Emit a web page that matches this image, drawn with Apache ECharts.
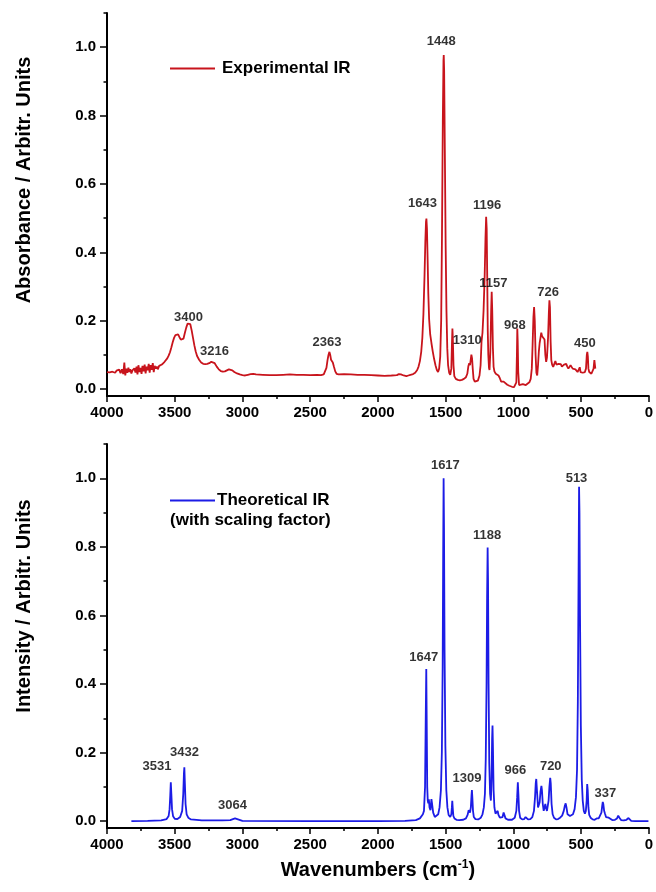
<!DOCTYPE html>
<html>
<head>
<meta charset="utf-8">
<script src="https://cdn.jsdelivr.net/npm/echarts@6/dist/echarts.min.js"></script>
<style>
  html, body { margin: 0; padding: 0; background: #fff; }
  #main { width: 656px; height: 892px; }
</style>
</head>
<body>
<div id="main"></div>
<script>
// experimental spectrum, [wavenumber, absorbance]
var expPoints = [
  [4000,0.050],[3990,0.052],[3980,0.049],[3970,0.053],[3960,0.051],[3950,0.055],[3940,0.048],[3930,0.054],
  [3920,0.050],[3910,0.057],[3900,0.047],[3890,0.058],[3880,0.044],[3872,0.078],[3865,0.040],[3858,0.060],
  [3850,0.048],[3842,0.063],[3835,0.050],[3828,0.058],[3820,0.046],[3812,0.055],[3805,0.052],[3798,0.061],
  [3790,0.049],[3782,0.066],[3775,0.043],[3768,0.070],[3760,0.050],[3752,0.062],[3745,0.045],[3738,0.068],
  [3730,0.052],[3722,0.072],[3715,0.046],[3708,0.066],[3700,0.055],[3692,0.074],[3685,0.048],[3678,0.070],
  [3670,0.057],[3662,0.076],[3655,0.050],[3648,0.068],[3640,0.060],[3632,0.066],[3625,0.058],[3615,0.068],
  [3605,0.064],[3595,0.072],[3585,0.070],[3575,0.080],[3565,0.082],[3555,0.090],[3545,0.098],[3535,0.108],
  [3525,0.122],[3515,0.137],[3505,0.150],[3495,0.158],[3485,0.163],[3475,0.160],[3465,0.152],[3455,0.145],
  [3445,0.142],[3435,0.148],[3425,0.165],[3415,0.180],[3405,0.192],[3395,0.196],[3385,0.190],[3375,0.172],
  [3365,0.150],[3355,0.128],[3345,0.110],[3335,0.097],[3320,0.086],[3305,0.078],[3290,0.074],[3275,0.073],
  [3260,0.074],[3245,0.076],[3230,0.080],[3218,0.081],[3205,0.076],[3190,0.066],[3175,0.058],[3160,0.053],
  [3145,0.051],[3130,0.052],[3115,0.055],[3100,0.058],[3090,0.058],[3075,0.055],[3060,0.050],[3040,0.046],
  [3020,0.043],[3000,0.041],[2980,0.040],[2960,0.042],[2940,0.044],[2920,0.045],[2900,0.043],[2850,0.042],
  [2800,0.041],[2750,0.041],[2700,0.042],[2650,0.043],[2600,0.042],[2550,0.042],[2500,0.041],[2450,0.042],
  [2420,0.041],[2400,0.043],[2390,0.048],[2380,0.062],[2372,0.085],[2365,0.100],[2358,0.109],[2352,0.100],
  [2346,0.086],[2340,0.082],[2333,0.078],[2325,0.066],[2315,0.052],[2305,0.045],[2290,0.043],[2250,0.044],
  [2200,0.043],[2150,0.042],[2100,0.042],[2050,0.041],[2000,0.040],[1950,0.039],[1900,0.040],[1860,0.041],
  [1845,0.044],[1837,0.047],[1830,0.043],[1810,0.040],[1790,0.038],[1775,0.040],[1760,0.042],[1740,0.044],
  [1725,0.048],[1710,0.056],[1700,0.066],[1690,0.082],[1680,0.110],[1672,0.150],[1664,0.220],[1656,0.330],
  [1650,0.430],[1645,0.490],[1642,0.499],[1638,0.470],[1633,0.380],[1628,0.280],[1622,0.205],[1614,0.160],
  [1605,0.135],[1595,0.110],[1585,0.088],[1575,0.070],[1565,0.056],[1556,0.050],[1548,0.060],[1540,0.095],
  [1533,0.200],[1527,0.450],[1521,0.780],[1516,0.960],[1514,0.977],[1511,0.930],[1506,0.700],[1500,0.420],
  [1494,0.230],[1488,0.120],[1482,0.070],[1474,0.048],[1466,0.042],[1458,0.060],[1453,0.140],[1450,0.177],
  [1447,0.150],[1442,0.070],[1436,0.038],[1425,0.030],[1410,0.027],[1395,0.026],[1380,0.027],[1365,0.030],
  [1350,0.035],[1340,0.045],[1332,0.068],[1326,0.076],[1320,0.070],[1315,0.086],[1310,0.101],[1305,0.090],
  [1300,0.060],[1294,0.030],[1285,0.022],[1272,0.022],[1262,0.025],[1250,0.040],[1242,0.070],[1235,0.140],
  [1228,0.165],[1220,0.230],[1212,0.330],[1206,0.440],[1201,0.504],[1197,0.470],[1193,0.330],[1189,0.170],
  [1185,0.100],[1180,0.062],[1176,0.056],[1170,0.110],[1164,0.230],[1160,0.285],[1156,0.230],[1151,0.120],
  [1146,0.065],[1140,0.052],[1130,0.045],[1120,0.042],[1110,0.040],[1100,0.032],[1090,0.022],[1080,0.017],
  [1072,0.022],[1065,0.027],[1058,0.021],[1045,0.013],[1030,0.010],[1010,0.007],[995,0.006],[985,0.008],
  [978,0.020],[974,0.100],[971,0.177],[968,0.140],[964,0.050],[958,0.012],[945,0.010],[930,0.015],
  [920,0.018],[908,0.012],[896,0.012],[882,0.020],[872,0.030],[864,0.060],[858,0.130],[852,0.210],
  [847,0.240],[842,0.200],[836,0.100],[830,0.048],[824,0.040],[818,0.070],[812,0.110],[806,0.135],
  [800,0.150],[794,0.165],[788,0.155],[782,0.150],[776,0.158],[770,0.145],[764,0.100],[758,0.080],
  [752,0.092],[744,0.150],[738,0.225],[734,0.260],[730,0.240],[725,0.140],[720,0.085],[714,0.072],
  [706,0.065],[698,0.070],[690,0.082],[682,0.072],[674,0.068],[666,0.074],[658,0.070],[650,0.073],
  [642,0.066],[634,0.068],[626,0.072],[618,0.070],[610,0.074],[602,0.066],[594,0.060],[586,0.064],
  [578,0.070],[570,0.066],[562,0.060],[552,0.056],[542,0.058],[534,0.053],[526,0.050],[518,0.055],
  [510,0.064],[504,0.050],[496,0.045],[488,0.048],[480,0.046],[472,0.050],[464,0.060],[458,0.100],
  [454,0.109],[450,0.095],[446,0.060],[440,0.050],[432,0.048],[424,0.045],[416,0.048],[408,0.060],
  [402,0.085],[398,0.087],[395,0.060]
];

// theoretical spectrum (scaled), [wavenumber, intensity]
var theoPoints = [
  [3820,0],[3700,0.001],[3600,0.002],[3560,0.006],[3545,0.015],[3538,0.035],[3533,0.075],[3529,0.113],
  [3525,0.080],[3520,0.035],[3512,0.014],[3500,0.007],[3480,0.006],[3460,0.012],[3445,0.030],[3437,0.080],
  [3432,0.140],[3429,0.157],[3425,0.110],[3420,0.050],[3412,0.020],[3400,0.010],[3380,0.005],[3300,0.002],
  [3150,0.002],[3090,0.003],[3070,0.006],[3060,0.009],[3055,0.008],[3045,0.004],[3000,0.001],[2500,0],
  [2000,0],[1800,0.001],[1720,0.003],[1690,0.008],[1668,0.020],[1660,0.030],[1652,0.100],[1647,0.300],
  [1643,0.444],[1640,0.300],[1636,0.100],[1632,0.060],[1628,0.052],[1624,0.064],[1619,0.040],[1612,0.032],
  [1605,0.064],[1600,0.050],[1592,0.025],[1580,0.012],[1568,0.010],[1555,0.020],[1545,0.040],[1535,0.090],
  [1528,0.200],[1522,0.450],[1518,0.800],[1515,1.000],[1512,0.850],[1508,0.500],[1502,0.220],[1495,0.090],
  [1487,0.040],[1478,0.018],[1466,0.012],[1458,0.020],[1454,0.040],[1451,0.059],[1448,0.040],[1443,0.015],
  [1435,0.008],[1420,0.004],[1400,0.003],[1370,0.004],[1350,0.008],[1338,0.018],[1330,0.032],[1326,0.030],
  [1320,0.025],[1314,0.040],[1309,0.075],[1306,0.091],[1303,0.070],[1298,0.030],[1292,0.012],[1280,0.006],
  [1260,0.005],[1240,0.010],[1228,0.020],[1218,0.040],[1210,0.080],[1204,0.180],[1198,0.400],[1194,0.650],
  [1190,0.798],[1187,0.700],[1183,0.400],[1178,0.170],[1172,0.080],[1166,0.060],[1161,0.120],[1157,0.240],
  [1154,0.279],[1151,0.220],[1146,0.090],[1140,0.040],[1132,0.022],[1124,0.020],[1116,0.030],[1110,0.018],
  [1100,0.010],[1090,0.009],[1080,0.012],[1072,0.025],[1066,0.020],[1058,0.008],[1040,0.004],[1010,0.004],
  [990,0.010],[978,0.030],[972,0.070],[967,0.113],[963,0.080],[958,0.030],[950,0.010],[935,0.005],
  [920,0.006],[910,0.012],[903,0.010],[892,0.005],[875,0.006],[860,0.012],[848,0.030],[840,0.070],
  [835,0.110],[831,0.123],[826,0.090],[818,0.040],[812,0.035],[806,0.055],[800,0.085],[793,0.103],
  [789,0.090],[783,0.050],[776,0.030],[770,0.040],[764,0.050],[760,0.040],[752,0.030],[746,0.035],
  [740,0.060],[734,0.100],[728,0.126],[724,0.110],[718,0.050],[710,0.020],[700,0.010],[685,0.005],
  [670,0.006],[655,0.010],[640,0.016],[628,0.030],[620,0.045],[614,0.052],[608,0.040],[600,0.020],
  [594,0.018],[588,0.022],[582,0.015],[570,0.014],[560,0.020],[548,0.035],[538,0.070],[530,0.150],
  [524,0.350],[519,0.700],[515,0.975],[512,0.900],[508,0.600],[502,0.280],[495,0.120],[488,0.060],
  [480,0.030],[472,0.022],[465,0.030],[459,0.060],[455,0.108],[451,0.090],[446,0.040],[440,0.018],
  [430,0.010],[415,0.005],[400,0.004],[385,0.008],[378,0.012],[370,0.008],[360,0.012],[350,0.025],
  [344,0.045],[340,0.056],[336,0.050],[330,0.030],[324,0.022],[316,0.012],[306,0.008],[296,0.010],
  [288,0.006],[270,0.003],[250,0.004],[235,0.008],[226,0.016],[222,0.018],[217,0.010],[205,0.003],
  [185,0.002],[165,0.004],[156,0.008],[150,0.009],[145,0.005],[130,0.001],[100,0],[50,0],[3,0]
];

// peak annotations: text and where the text sits
var expPeakText = ['3400','3216','2363','1643','1448','1196','1157','1310','968','726','450'];
var expPeakPos = [[3398,0.211],[3207,0.111],[2376,0.137],[1671,0.543],[1532,1.016],[1194,0.538],
  [1147,0.309],[1341,0.143],[989,0.187],[744,0.282],[472,0.134]];
var theoPeakText = ['3531','3432','3064','1647','1617','1188','1309','966','720','513','337'];
var theoPeakPos = [[3631,0.159],[3428,0.199],[3073,0.045],[1661,0.477],[1502,1.037],[1194,0.832],
  [1343,0.126],[986,0.147],[724,0.159],[534,1.000],[321,0.081]];

var yMajorTicks = [0, 0.2, 0.4, 0.6, 0.8, 1.0];
var yMinorTicks = [0.1, 0.3, 0.5, 0.7, 0.9, 1.1];

var FONT = 'Liberation Sans, Arial, sans-serif';
var RED = '#c8141c';
var BLUE = '#1c1ce6';

function peakData(texts, pos) {
  return texts.map(function (t, i) {
    return { name: t, value: pos[i] };
  });
}

function xAxisCfg(gridIndex, withName) {
  var ax = {
    type: 'value',
    gridIndex: gridIndex,
    min: 0,
    max: 4000,
    interval: 500,
    inverse: true,
    axisLine: { onZero: false, lineStyle: { color: '#000', width: 2 } },
    axisTick: { length: 6, lineStyle: { color: '#000', width: 1.5 } },
    minorTick: { show: true, splitNumber: 2, length: 3, lineStyle: { color: '#000', width: 1.5 } },
    axisLabel: {
      color: '#000', fontFamily: FONT, fontWeight: 'bold', fontSize: 15, margin: 9,
      formatter: function (v) { return String(v); }
    },
    splitLine: { show: false }
  };
  if (withName) {
    ax.name = 'Wavenumbers (cm{sup|-1})';
    ax.nameLocation = 'middle';
    ax.nameGap = 31;
    ax.nameTextStyle = {
      color: '#000', fontFamily: FONT, fontWeight: 'bold', fontSize: 20,
      rich: { sup: { fontSize: 12, fontWeight: 'bold', fontFamily: FONT, color: '#000', verticalAlign: 'top', padding: [0, 0, 10, 0] } }
    };
  }
  return ax;
}

function yMajor(gridIndex, name, shift) {
  return {
    type: 'value',
    gridIndex: gridIndex,
    position: 'left',
    min: -0.02,
    max: 1.1,
    name: name,
    nameLocation: 'middle',
    nameGap: 73,
    nameTextStyle: { color: '#000', fontFamily: FONT, fontWeight: 'bold', fontSize: 20, padding: [0, 0, 0, shift] },
    axisLine: { onZero: false, lineStyle: { color: '#000', width: 2 } },
    axisTick: { length: 7, customValues: yMajorTicks, lineStyle: { color: '#000', width: 1.5 } },
    axisLabel: {
      customValues: yMajorTicks, color: '#000', fontFamily: FONT, fontWeight: 'bold', fontSize: 15, margin: 11,
      formatter: function (v) { return v.toFixed(1); }
    },
    splitLine: { show: false }
  };
}

function yMinor(gridIndex) {
  return {
    type: 'value',
    gridIndex: gridIndex,
    position: 'left',
    offset: 0,
    min: -0.02,
    max: 1.1,
    axisLine: { show: false, onZero: false },
    axisTick: { length: 3.5, customValues: yMinorTicks, lineStyle: { color: '#000', width: 1.5 } },
    axisLabel: { show: false },
    splitLine: { show: false }
  };
}

function labelSeries(xi, yi, data) {
  return {
    type: 'scatter',
    xAxisIndex: xi,
    yAxisIndex: yi,
    symbolSize: 0,
    itemStyle: { color: '#000' },
    silent: true,
    z: 5,
    label: {
      show: true,
      position: [0, 0],
      align: 'center',
      verticalAlign: 'middle',
      formatter: '{b}',
      color: '#000',
      textBorderWidth: 0,
      fontFamily: FONT,
      fontWeight: 'bold',
      fontSize: 13
    },
    data: data
  };
}

var chart = echarts.init(document.getElementById('main'), null, { renderer: 'canvas' });
chart.setOption({
  backgroundColor: '#fff',
  animation: false,
  grid: [
    { left: 107, right: 4, top: 13, height: 383 },
    { left: 107, right: 4, top: 444, height: 384 }
  ],
  legend: [
    {
      data: ['Experimental IR'], left: 165, top: 55, icon: 'rect', itemWidth: 45, itemHeight: 2, itemGap: 0,
      textStyle: { color: '#000', fontFamily: FONT, fontWeight: 'bold', fontSize: 17, padding: [0, 0, 0, 2] }
    },
    {
      data: ['Theoretical IR'], left: 165, top: 487, icon: 'rect', itemWidth: 45, itemHeight: 2, itemGap: 0,
      textStyle: { color: '#000', fontFamily: FONT, fontWeight: 'bold', fontSize: 17, padding: [0, 0, 0, -3] }
    }
  ],
  graphic: [
    {
      type: 'text', left: 170, top: 512,
      style: { text: '(with scaling factor)', fill: '#000', font: 'bold 17px ' + FONT }
    }
  ],
  xAxis: [xAxisCfg(0, false), xAxisCfg(1, true)],
  yAxis: [
    yMajor(0, 'Absorbance / Arbitr. Units', 49),
    yMinor(0),
    yMajor(1, 'Intensity / Arbitr. Units', 60),
    yMinor(1)
  ],
  series: [
    {
      name: 'Experimental IR', type: 'line', xAxisIndex: 0, yAxisIndex: 0,
      showSymbol: false, symbol: 'none', silent: true,
      lineStyle: { color: RED, width: 1.8 }, itemStyle: { color: RED },
      data: expPoints
    },
    {
      name: 'Theoretical IR', type: 'line', xAxisIndex: 1, yAxisIndex: 2,
      showSymbol: false, symbol: 'none', silent: true,
      lineStyle: { color: BLUE, width: 1.8 }, itemStyle: { color: BLUE },
      data: theoPoints
    },
    labelSeries(0, 0, peakData(expPeakText, expPeakPos)),
    labelSeries(1, 2, peakData(theoPeakText, theoPeakPos))
  ]
});
</script>
</body>
</html>
